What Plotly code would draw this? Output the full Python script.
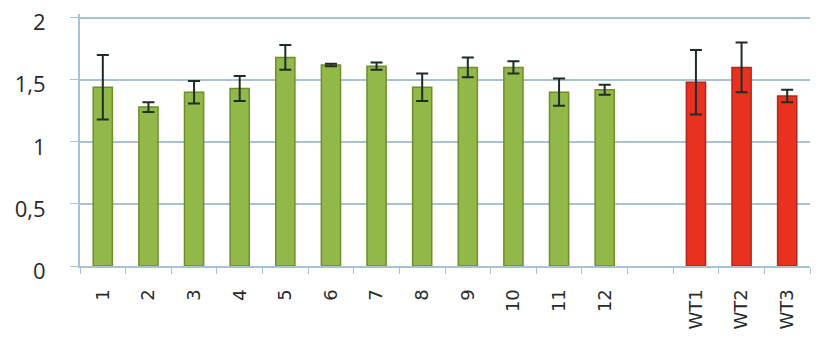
import plotly.graph_objects as go

# samples 1-12 (green) and wild type WT1-WT3 (red), with a blank slot between
labels = ["1", "2", "3", "4", "5", "6", "7", "8", "9", "10", "11", "12", " ", "WT1", "WT2", "WT3"]
sample_names = ["1", "2", "3", "4", "5", "6", "7", "8", "9", "10", "11", "12"]
sample_values = [1.44, 1.28, 1.40, 1.43, 1.68, 1.62, 1.61, 1.44, 1.60, 1.60, 1.40, 1.42]
sample_errors = [0.26, 0.04, 0.09, 0.10, 0.10, 0.01, 0.03, 0.11, 0.08, 0.05, 0.11, 0.04]
wt_names = ["WT1", "WT2", "WT3"]
wt_values = [1.48, 1.60, 1.37]
wt_errors = [0.26, 0.20, 0.05]

err_style = dict(type="data", thickness=2, width=6, color="#1f2d24")

fig = go.Figure()
fig.add_trace(go.Bar(
    x=sample_names, y=sample_values,
    error_y=dict(array=sample_errors, **err_style),
    marker=dict(color="#92b84a", line=dict(color="#6d8f2e", width=1.5)),
))
fig.add_trace(go.Bar(
    x=wt_names, y=wt_values,
    error_y=dict(array=wt_errors, **err_style),
    marker=dict(color="#e8321f", line=dict(color="#b8261a", width=1.5)),
))

# page body adds ~8px margin, so the figure is sized to fit inside the window
fig.update_layout(
    width=811, height=341,
    margin=dict(l=72, r=9, t=6, b=83),
    paper_bgcolor="white", plot_bgcolor="white",
    barmode="overlay", bargap=0.58,
    showlegend=False,
    separators=", ",
    font=dict(family="Open Sans, DejaVu Sans, sans-serif", color="#2a2a2a"),
)
fig.update_xaxes(
    type="category", categoryorder="array", categoryarray=labels,
    tickmode="array", tickvals=labels, ticktext=labels,
    tickangle=-90, tickfont=dict(size=18, family="DejaVu Sans"),
    showline=True, linecolor="#a9c3d6", linewidth=2,
    ticks="outside", tickson="boundaries", ticklen=6, tickcolor="#a9c3d6",
    ticklabelstandoff=14,
    showgrid=False, automargin=False,
)
fig.update_yaxes(
    range=[0, 2.03], tickvals=[0, 0.5, 1, 1.5, 2],
    tickfont=dict(size=22),
    showgrid=True, gridcolor="#a9c3d6", gridwidth=2,
    showline=True, linecolor="#a9c3d6", linewidth=2,
    ticks="outside", ticklen=8, tickcolor="#a9c3d6",
    ticklabelstandoff=20, ticklabelshift=5, ticklabeloverflow="allow",
    zeroline=False, automargin=False,
)

fig.write_html("out.html")
